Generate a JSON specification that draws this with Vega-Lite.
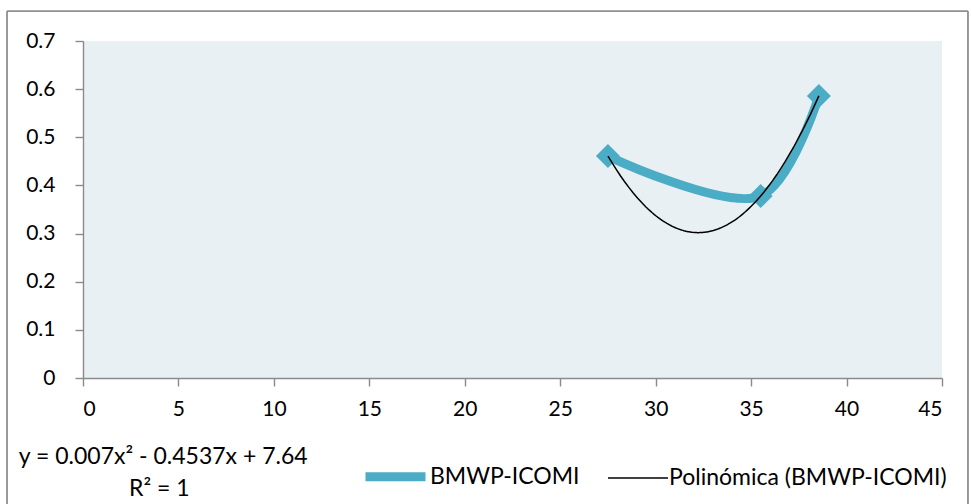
{
  "$schema": "https://vega.github.io/schema/vega-lite/v6.json",
  "width": 859,
  "height": 337,
  "autosize": {"type": "none"},
  "padding": {"left": 83, "top": 41, "right": 29, "bottom": 126},
  "background": "white",
  "config": {
    "view": {"stroke": null, "fill": "#E9F0F4"},
    "font": "Lato",
    "axis": {
      "gridColor": "#8A8A8A",
      "gridWidth": 1.4,
      "domainColor": "#8A8A8A",
      "domainWidth": 1.4,
      "tickColor": "#8A8A8A",
      "tickWidth": 1.4,
      "tickSize": 8,
      "labelFont": "Lato",
      "labelFontSize": 21,
      "labelColor": "black",
      "title": null
    }
  },
  "data": {"values": [
    {"x": 27.5, "y": 0.461},
    {"x": 35.5, "y": 0.378},
    {"x": 38.55, "y": 0.586}
  ]},
  "layer": [
    {
      "mark": {"type": "rect", "clip": false, "fill": null, "stroke": "#8C8C8C", "strokeWidth": 1},
      "encoding": {
        "x": {"datum": -3.98, "type": "quantitative"},
        "x2": {"datum": 46.36},
        "y": {"datum": 0.762, "type": "quantitative"},
        "y2": {"datum": -0.264}
      }
    },
    {
      "mark": {"type": "line", "interpolate": "catmull-rom", "strokeCap": "round", "strokeJoin": "round"},
      "encoding": {
        "x": {"field": "x", "type": "quantitative", "scale": {"domain": [0, 45], "nice": false},
              "axis": {"values": [0,5,10,15,20,25,30,35,40,45], "labelPadding": 12}},
        "y": {"field": "y", "type": "quantitative", "scale": {"domain": [0, 0.7], "nice": false},
              "axis": {"values": [0,0.1,0.2,0.3,0.4,0.5,0.6,0.7], "format": ".1~f", "labelPadding": 20}},
        "color": {"datum": "BMWP-ICOMI", "type": "nominal",
          "scale": {"domain": ["BMWP-ICOMI", "Polinómica (BMWP-ICOMI)"], "range": ["#4BACC6", "#000000"]},
          "legend": {"title": null, "orient": "none", "legendX": 278, "legendY": 401, "direction": "horizontal",
            "symbolType": "stroke", "symbolSize": 3600, "labelFontSize": 23, "labelFont": "Lato", "labelColor": "black",
            "labelOffset": 0, "columnPadding": 25, "labelLimit": 500}},
        "strokeWidth": {"datum": "BMWP-ICOMI", "type": "nominal",
          "scale": {"domain": ["BMWP-ICOMI", "Polinómica (BMWP-ICOMI)"], "range": [9, 1.5]},
          "legend": {"title": null, "orient": "none", "legendX": 278, "legendY": 401, "direction": "horizontal",
            "symbolType": "stroke", "symbolSize": 3600, "labelFontSize": 23, "labelFont": "Lato", "labelColor": "black",
            "labelOffset": 0, "columnPadding": 25, "labelLimit": 500}}
      }
    },
    {
      "mark": {"type": "point", "shape": "diamond", "filled": true, "size": 576, "color": "#4BACC6", "opacity": 1},
      "encoding": {
        "x": {"field": "x", "type": "quantitative"},
        "y": {"field": "y", "type": "quantitative"}
      }
    },
    {
      "transform": [{"regression": "y", "on": "x", "method": "poly", "order": 2}],
      "mark": {"type": "line"},
      "encoding": {
        "x": {"field": "x", "type": "quantitative"},
        "y": {"field": "y", "type": "quantitative"},
        "color": {"datum": "Polinómica (BMWP-ICOMI)", "type": "nominal"},
        "strokeWidth": {"datum": "Polinómica (BMWP-ICOMI)", "type": "nominal"}
      }
    },
    {
      "data": {"values": [
        {"tx": 4.2, "ty": -0.165, "label": "y = 0.007x² - 0.4537x + 7.64"},
        {"tx": 4.0, "ty": -0.231, "label": "R² = 1"}
      ]},
      "mark": {"type": "text", "clip": false, "fontSize": 23, "font": "Lato", "color": "black", "align": "center", "baseline": "middle"},
      "encoding": {
        "x": {"field": "tx", "type": "quantitative"},
        "y": {"field": "ty", "type": "quantitative"},
        "text": {"field": "label"}
      }
    }
  ]
}
